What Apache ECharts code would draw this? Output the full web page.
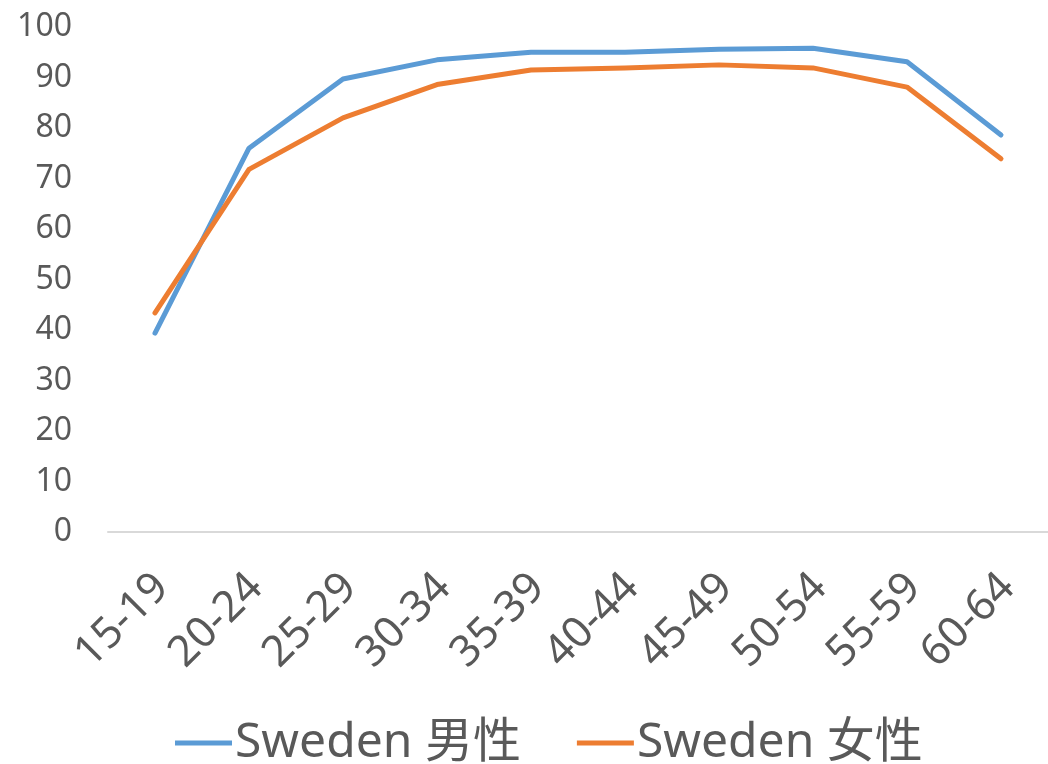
<!DOCTYPE html>
<html>
<head>
<meta charset="utf-8">
<script src="https://cdn.jsdelivr.net/npm/echarts@6/dist/echarts.min.js"></script>
<style>html,body{margin:0;padding:0;background:#fff}#c{width:1048px;height:764px}</style>
</head>
<body>
<div id="c"></div>
<script>
const categories = ['15-19','20-24','25-29','30-34','35-39','40-44','45-49','50-54','55-59','60-64'];
const male = [39.4, 76.0, 89.7, 93.5, 95.0, 95.0, 95.6, 95.8, 93.1, 78.6];
const female = [43.4, 71.8, 82.0, 88.6, 91.5, 91.9, 92.5, 91.9, 88.1, 73.9];
const seriesNames = ['Sweden 男性', 'Sweden 女性'];
const colors = ['#5B9BD5', '#ED7D31'];
const font = '"Noto Sans", "Noto Sans CJK SC", sans-serif';
const chart = echarts.init(document.getElementById('c'));
chart.setOption({
  animation: false,
  color: colors,
  grid: { left: 108, top: 27, width: 947, height: 505, containLabel: false },
  legend: {
    bottom: -8, left: 170,
    itemWidth: 57, itemHeight: 5, itemGap: 56,
    icon: 'rect',
    textStyle: { fontFamily: font, fontSize: 48, color: '#595959', padding: [0, 0, 0, -2] },
    data: seriesNames
  },
  xAxis: {
    type: 'category', data: categories, boundaryGap: true,
    axisLine: { lineStyle: { color: '#D9D9D9', width: 2 } },
    axisTick: { show: false },
    axisLabel: { rotate: 45, margin: 56, padding: [14, -10, 0, 0], fontFamily: font, fontSize: 43, color: '#595959' }
  },
  yAxis: {
    type: 'value', min: 0, max: 100, interval: 10,
    splitLine: { show: false },
    axisLine: { show: false }, axisTick: { show: false },
    axisLabel: { margin: 36, fontFamily: font, fontSize: 32, color: '#595959' }
  },
  series: [
    { name: seriesNames[0], type: 'line', data: male, symbol: 'none', lineStyle: { width: 5, cap: 'round', join: 'round' } },
    { name: seriesNames[1], type: 'line', data: female, symbol: 'none', lineStyle: { width: 5, cap: 'round', join: 'round' } }
  ]
});
</script>
</body>
</html>
